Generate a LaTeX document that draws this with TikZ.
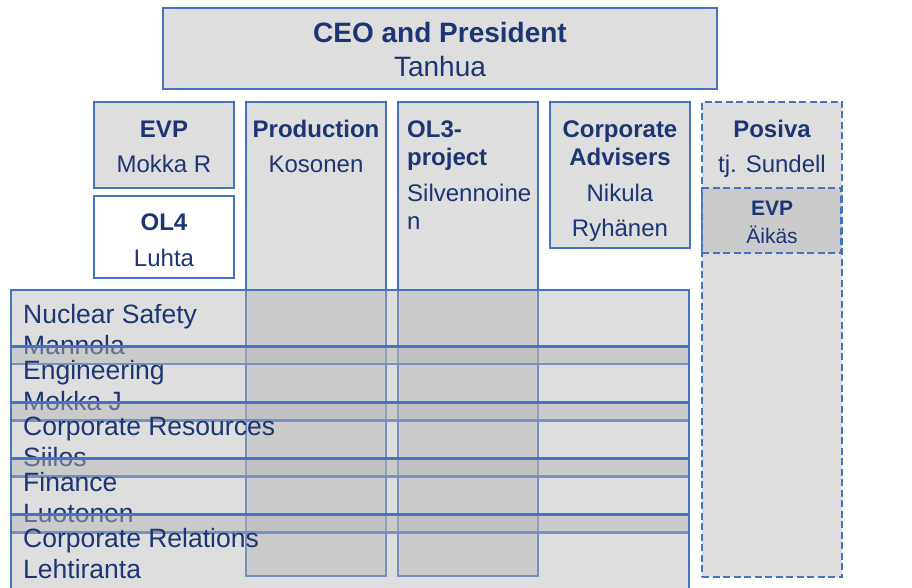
\documentclass[tikz,border=0pt]{standalone}
\usepackage{fontspec}
\setmainfont{Liberation Sans}
\usetikzlibrary{fit}
\definecolor{bordblue}{HTML}{4472C4}
\definecolor{boxgray}{HTML}{B6B6B6}
\definecolor{navy}{HTML}{1C3574}
\begin{document}
\begin{tikzpicture}[x=1pt,y=-1pt,
  box/.style={draw=bordblue, line width=2.9pt, fill=boxgray, fill opacity=0.45, inner sep=0pt, outer sep=0pt},
  dashbox/.style={box, dash pattern=on 7pt off 3.5pt},
  lab/.style={text=navy, inner sep=0pt, anchor=base, font=\fontsize{24}{28}\selectfont},
  hd/.style={lab, font=\bfseries\fontsize{24}{28}\selectfont},
  big/.style={lab, font=\fontsize{28}{32}\selectfont},
  bighd/.style={lab, font=\bfseries\fontsize{28}{32}\selectfont},
  small/.style={lab, font=\fontsize{21}{25}\selectfont},
  smallhd/.style={lab, font=\bfseries\fontsize{21}{25}\selectfont},
  rowlab/.style={lab, anchor=base west, font=\fontsize{26.5}{30}\selectfont}]
\useasboundingbox (0,0) rectangle (912,588);
\clip (0,0) rectangle (912,588);
\fill[white] (0,0) rectangle (912,588);

% CEO
\node[box, fit={(163,8)(717,89)}] (ceo) {};
\node[bighd] (ceoT) at (440,43) {CEO and President};
\node[big] (ceoN) at (440,77) {Tanhua};

% EVP Mokka R
\node[box, fit={(94,102)(234,188)}] (evp) {};
\node[hd] (evpT) at (164,138) {EVP};
\node[lab] (evpN) at (164,173) {Mokka R};

% OL4
\node[box, fill=white, fill opacity=1, fit={(94,196)(234,278)}] (ol4) {};
\node[hd] (ol4T) at (164,230) {OL4};
\node[lab] (ol4N) at (164,266) {Luhta};

% Production
\node[box, fit={(246,102)(386,576)}] (prod) {};
\node[hd] (prodT) at (316,138) {Production};
\node[lab] (prodN) at (316,173) {Kosonen};

% OL3
\node[box, fit={(398,102)(538,576)}] (ol3) {};
\node[hd, anchor=base west] (ol3T1) at (407,138) {OL3-};
\node[hd, anchor=base west] (ol3T2) at (407,166) {project};
\node[lab, anchor=base west] (ol3N1) at (407,201) {Silvennoine};
\node[lab, anchor=base west] (ol3N2) at (407,229) {n};

% Corporate Advisers
\node[box, fit={(550,102)(690,248)}] (adv) {};
\node[hd] (advT1) at (620,138) {Corporate};
\node[hd] (advT2) at (620,166) {Advisers};
\node[lab] (advN1) at (620,201) {Nikula};
\node[lab] (advN2) at (620,236) {Ryhänen};

% Posiva
\node[dashbox, fit={(702,102)(842,577)}] (pos) {};
\node[hd] (posT) at (772,138) {Posiva};
\node[lab] (posN) at (772,173) {tj. Sundell};
\node[dashbox, fit={(702,188)(841,253)}] (pevp) {};
\node[smallhd] (pevpT) at (772,215) {EVP};
\node[small] (pevpN) at (772,243) {Äikäs};

% Rows
\foreach \i/\a/\b in {0/Nuclear Safety/Mannola, 1/Engineering/Mokka J, 2/Corporate Resources/Siilos, 3/Finance/Luotonen, 4/Corporate Relations/Lehtiranta} {
  \pgfmathsetmacro{\top}{290+56.2*\i}
  \pgfmathsetmacro{\bot}{\i<4 ? \top+74 : 610}
  \pgfmathsetmacro{\bl}{\top+33}
  \pgfmathsetmacro{\bn}{\top+64}
  \node[box, fit={(11,\top)(689,\bot)}] (row\i) {};
  \node[rowlab] (rowT\i) at (23,\bl) {\a};
  \node[rowlab] (rowN\i) at (23,\bn) {\b};
}
\end{tikzpicture}
\end{document}
